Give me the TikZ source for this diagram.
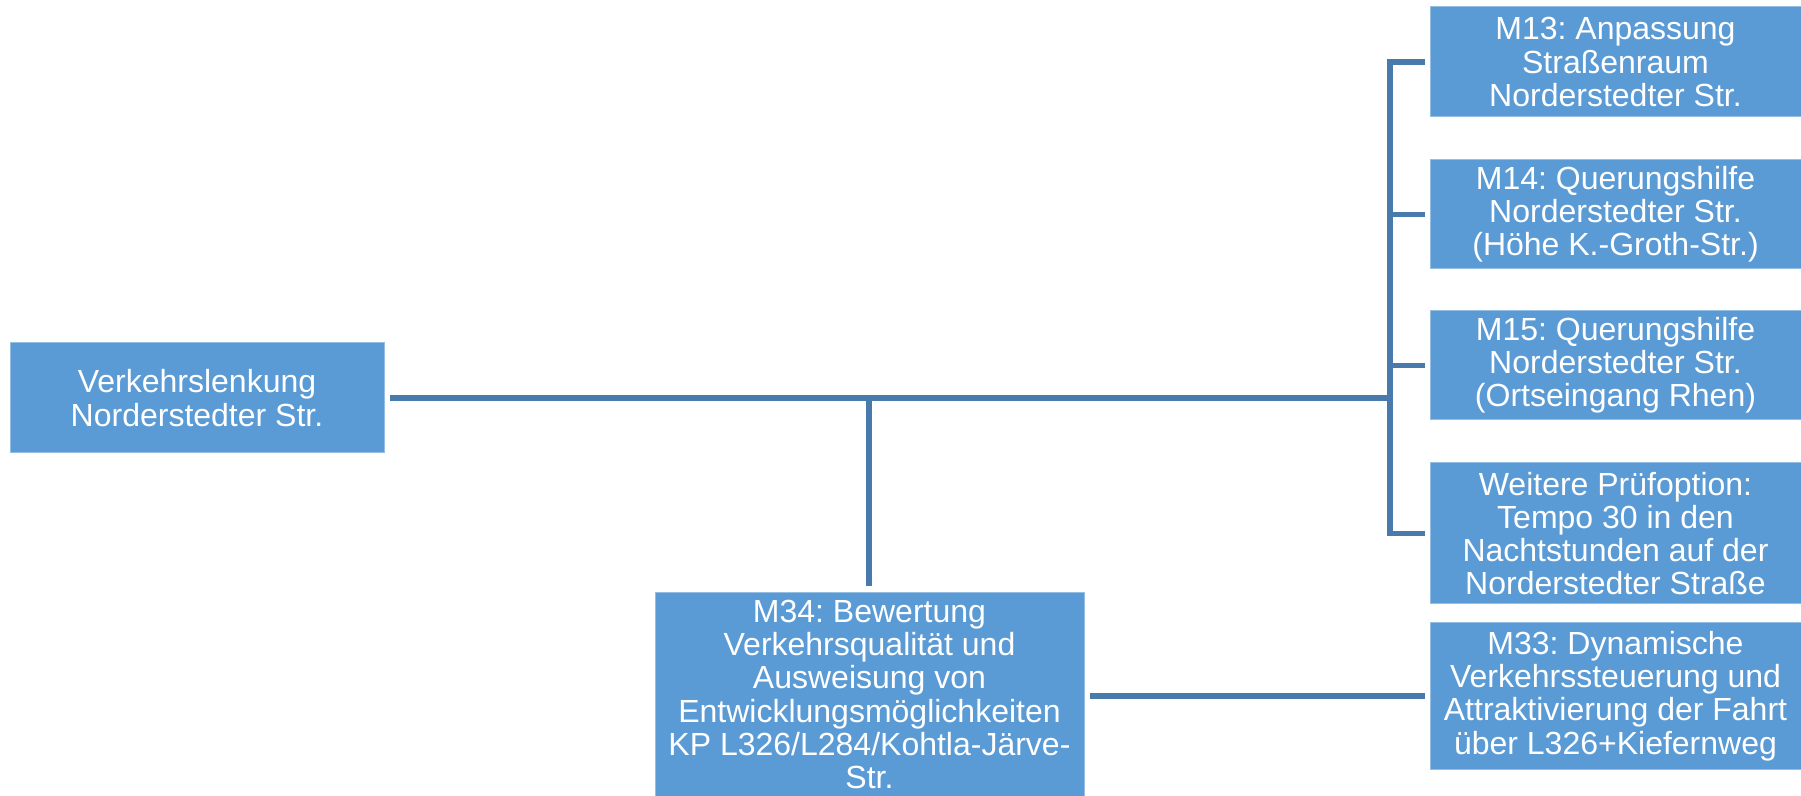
\documentclass[tikz,border=0pt]{standalone}
\usepackage{fontspec}
\setmainfont{Liberation Sans}
\frenchspacing
\definecolor{boxblue}{RGB}{91,155,213}
\definecolor{linkblue}{RGB}{72,123,172}
\begin{document}
\begin{tikzpicture}[x=0.5pt,y=-0.5pt,
  mbox/.style={rectangle, fill=boxblue, draw=white!35!boxblue, line width=0.5pt,
    inner sep=0pt, text=white, align=center,
    font=\fontsize{16pt}{16.6pt}\selectfont},
  link/.style={draw=linkblue, line width=2.75pt},
  gap/.style={shorten <=2.5pt, shorten >=2.5pt}]
\useasboundingbox (0,0) rectangle (1801,796);

% root and measure boxes
\node[mbox, minimum width=187pt, minimum height=55pt] (root) at (197,398)
  {Verkehrslenkung\\Norderstedter Str.};
\node[mbox, minimum width=185.5pt, minimum height=55pt] (m13) at (1615.5,62)
  {M13: Anpassung\\Straßenraum\\Norderstedter Str.};
\node[mbox, minimum width=185.5pt, minimum height=54.5pt] (m14) at (1615.5,214.5)
  {M14: Querungshilfe\\Norderstedter Str.\\(Höhe K.-Groth-Str.)};
\node[mbox, minimum width=185.5pt, minimum height=54.5pt] (m15) at (1615.5,365.5)
  {M15: Querungshilfe\\Norderstedter Str.\\(Ortseingang Rhen)};
\node[mbox, minimum width=185.5pt, minimum height=70.5pt] (opt) at (1615.5,533.5)
  {Weitere Prüfoption:\\Tempo 30 in den\\Nachtstunden auf der\\Norderstedter Straße};
\node[mbox, minimum width=185.5pt, minimum height=73pt] (m33) at (1615.5,696)
  {M33: Dynamische\\Verkehrssteuerung und\\Attraktivierung der Fahrt\\über L326+Kiefernweg};
\node[mbox, minimum width=214.5pt, minimum height=101.5pt] (m34) at (869.5,694.5)
  {M34: Bewertung\\Verkehrsqualität und\\Ausweisung von\\Entwicklungsmöglichkeiten\\KP L326/L284/Kohtla-Järve-\\Str.};

% junction points of the tree
\coordinate (bus) at (1390,398);
\coordinate (drop) at (869,398);
\coordinate (btop) at (1390,62);
\coordinate (bbot) at (1390,533.5);

% main branch
\draw[link, shorten <=2.5pt] (root.east) -- (bus);
\draw[link, line cap=rect] (btop) -- (bbot);
\draw[link, shorten >=2.5pt] (btop) -- (m13.west);
\draw[link, shorten >=2.5pt] (m14.west -| bus) -- (m14.west);
\draw[link, shorten >=2.5pt] (m15.west -| bus) -- (m15.west);
\draw[link, shorten >=2.5pt] (bbot) -- (opt.west);
\draw[link, shorten >=3pt] (drop) -- (m34.north -| drop);
\draw[link, gap] (m33.west -| m34.east) -- (m33.west);
\end{tikzpicture}
\end{document}
